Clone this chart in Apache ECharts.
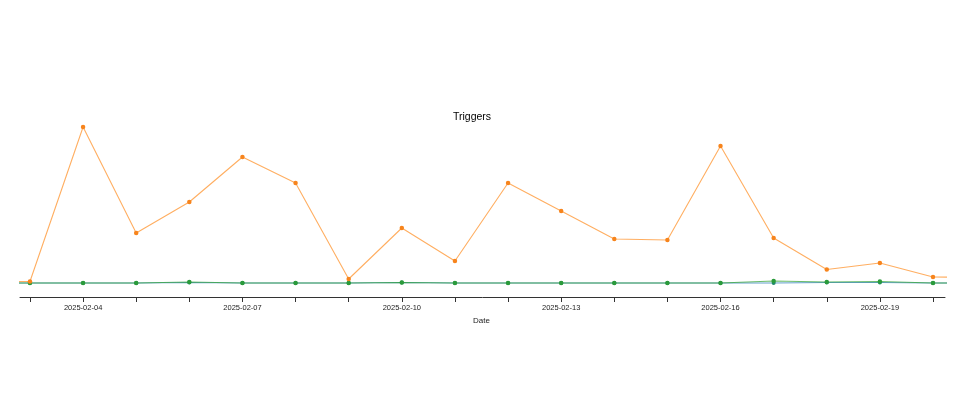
<!DOCTYPE html>
<html>
<head>
<meta charset="utf-8">
<script src="https://cdn.jsdelivr.net/npm/echarts@6/dist/echarts.min.js"></script>
<style>html,body{margin:0;padding:0;background:#fff}#c{width:960px;height:420px}</style>
</head>
<body>
<div id="c"></div>
<script>
// Dates (the first and last entries lie just beyond the visible range and are clipped)
var dates = ['2025-02-02','2025-02-03','2025-02-04','2025-02-05','2025-02-06','2025-02-07','2025-02-08','2025-02-09','2025-02-10','2025-02-11','2025-02-12','2025-02-13','2025-02-14','2025-02-15','2025-02-16','2025-02-17','2025-02-18','2025-02-19','2025-02-20','2025-02-21'];
var tickDates = ['2025-02-03','2025-02-04','2025-02-05','2025-02-06','2025-02-07','2025-02-08','2025-02-09','2025-02-10','2025-02-11','2025-02-12','2025-02-13','2025-02-14','2025-02-15','2025-02-16','2025-02-17','2025-02-18','2025-02-19','2025-02-20'];
var orangeValues = [1.5, 1.5, 156, 50, 81, 126, 100, 4, 55, 22, 100, 72, 44, 43, 137, 45, 13.5, 20, 6, 5.5];
var greenValues  = [0, 0, 0, 0, 1, 0, 0, 0, 0.5, 0, 0, 0, 0, 0, 0, 2, 1, 1.5, 0, 0];
var blueValues   = [0, 0, 0, 0, 0.5, 0, 0, 0, 0.5, 0, 0, 0, 0, 0, 0, 0, 0.5, 0.5, 0, 0];
var titleText = 'Triggers';
var xName = 'Date';

function toTime(s){ var p = s.split('-'); return new Date(+p[0], +p[1]-1, +p[2]).getTime(); }
function pairs(vals){ return dates.map(function(d,i){ return [toTime(d), vals[i]]; }); }

var xMin = new Date(2025,1,2,19,30).getTime();
var xMax = new Date(2025,1,20,5,25).getTime();

var chart = echarts.init(document.getElementById('c'), null, {renderer:'canvas'});
chart.setOption({
  animation: false,
  backgroundColor: '#ffffff',
  title: {
    text: titleText, left: 467, top: 107, textAlign: 'center',
    textStyle: {fontFamily: 'Liberation Sans, Arial, sans-serif', fontSize: 10.5, fontWeight: 'normal', color: '#000'}
  },
  grid: [
    {left: 20, right: 15, top: 60, bottom: 123, containLabel: false},
    {left: 30, right: 27, top: 60, bottom: 123, containLabel: false}
  ],
  xAxis: [
    {type: 'time', gridIndex: 0, min: xMin, max: xMax,
     axisLine: {show: true, onZero: false, lineStyle: {color: '#333', width: 1}},
     axisTick: {show: false}, axisLabel: {show: false}, splitLine: {show: false}},
    {type: 'category', gridIndex: 1, data: tickDates, boundaryGap: false,
     axisLine: {show: false, onZero: false},
     axisTick: {show: true, length: 5, inside: false, interval: 0, lineStyle: {color: '#333', width: 1}},
     axisLabel: {interval: function(i){ return i % 3 === 1; }, margin: 7, fontSize: 7.5, color: '#222', fontFamily: 'Liberation Sans, Arial, sans-serif'},
     name: xName, nameLocation: 'middle', nameGap: 18,
     nameTextStyle: {fontSize: 8, color: '#222', fontFamily: 'Liberation Sans, Arial, sans-serif'},
     splitLine: {show: false}}
  ],
  yAxis: [
    {type: 'value', gridIndex: 0, min: -14, max: 223, show: false},
    {type: 'value', gridIndex: 1, min: -14, max: 223, show: false}
  ],
  series: [
    {type: 'line', xAxisIndex: 0, yAxisIndex: 0, data: pairs(blueValues), clip: true,
     symbol: 'circle', symbolSize: 4, lineStyle: {color: 'rgba(31,119,180,0.7)', width: 1.2},
     itemStyle: {color: '#1f8a6a'}},
    {type: 'line', xAxisIndex: 0, yAxisIndex: 0, data: pairs(greenValues), clip: true,
     symbol: 'circle', symbolSize: 4.5, lineStyle: {color: 'rgba(44,160,44,0.7)', width: 1.2},
     itemStyle: {color: '#2a9a3a'}},
    {type: 'line', xAxisIndex: 0, yAxisIndex: 0, data: pairs(orangeValues), clip: true,
     symbol: 'circle', symbolSize: 4.5, lineStyle: {color: 'rgba(255,140,30,0.7)', width: 1.1},
     itemStyle: {color: '#f7841c'}}
  ]
});
</script>
</body>
</html>
